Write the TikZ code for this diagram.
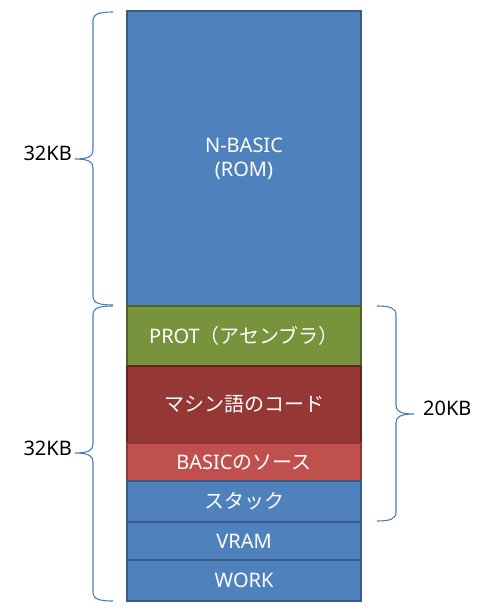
\documentclass[tikz,border=0pt]{standalone}
\usepackage{fontspec}
\setmainfont{Noto Sans}
\newfontfamily\jpfont{Noto Sans CJK JP}
\usetikzlibrary{positioning}
\definecolor{MemBlue}{RGB}{79,129,189}
\definecolor{MemBlueLine}{RGB}{56,93,138}
\definecolor{ProtGreen}{RGB}{119,147,60}
\definecolor{ProtGreenLine}{RGB}{79,98,40}
\definecolor{CodeRed}{RGB}{149,55,53}
\definecolor{CodeRedLine}{RGB}{99,37,35}
\definecolor{SourceRed}{RGB}{192,80,77}
\definecolor{SourceRedLine}{RGB}{140,56,54}
\definecolor{BraceBlue}{RGB}{74,126,187}
\tikzset{
  memblock/.style={line width=2.5pt,minimum width=234pt,inner sep=0pt,outer sep=0pt,
    text=white,align=center,font=\fontsize{20}{24}\selectfont},
  blueblock/.style={memblock,fill=MemBlue,draw=MemBlueLine},
  protblock/.style={memblock,fill=ProtGreen,draw=ProtGreenLine},
  codeblock/.style={memblock,fill=CodeRed,draw=CodeRedLine},
  sourceblock/.style={memblock,fill=SourceRed,draw=SourceRedLine},
  sizebrace/.style={draw=BraceBlue,line width=1.1pt},
  sizelabel/.style={font=\fontsize{20}{24}\selectfont,inner sep=0pt}
}
\begin{document}
\begin{tikzpicture}[x=1pt,y=-1pt]
  \useasboundingbox (0,0) rectangle (495,613);
  % memory map
  \node[blueblock,minimum height=295pt,anchor=north] (nbasic) at (244,11) {N-BASIC\\(ROM)};
  \node[protblock,minimum height=60pt,below=0pt of nbasic] (prot) {PROT{\jpfont （アセンブラ）}};
  \node[codeblock,minimum height=77pt,below=0pt of prot] (code) {\jpfont マシン語のコード};
  \node[sourceblock,minimum height=38pt,below=0pt of code] (source) {BASIC{\jpfont のソース}};
  \node[blueblock,minimum height=41pt,below=0pt of source] (stack) {\jpfont スタック};
  \node[blueblock,minimum height=38pt,below=0pt of stack] (vram) {VRAM};
  \node[blueblock,minimum height=41pt,below=0pt of vram] (work) {WORK};
  % braces
  \draw[sizebrace] (113,12) .. controls (99,12) and (93,14) .. (93,21) -- (93,150)
    .. controls (93,156) and (89,159) .. (75,159) .. controls (89,159) and (93,162) .. (93,168)
    -- (93,296) .. controls (93,303) and (99,305) .. (113,305);
  \draw[sizebrace] (113,306) .. controls (99,306) and (93,308) .. (93,315) -- (93,444)
    .. controls (93,450) and (89,453) .. (75,453) .. controls (89,453) and (93,456) .. (93,462)
    -- (93,592) .. controls (93,599) and (99,601) .. (113,601);
  \draw[sizebrace] (377,306) .. controls (390,306) and (396,308) .. (396,315) -- (396,405)
    .. controls (396,411) and (400,414) .. (414,414) .. controls (400,414) and (396,417) .. (396,423)
    -- (396,512) .. controls (396,519) and (390,521) .. (377,521);
  % sizes
  \node[sizelabel,anchor=base east] (romsize) at (72,160.5) {32KB};
  \node[sizelabel,anchor=base east] (ramsize) at (72,455) {32KB};
  \node[sizelabel,anchor=base west] (usersize) at (423,415.5) {20KB};
\end{tikzpicture}
\end{document}
